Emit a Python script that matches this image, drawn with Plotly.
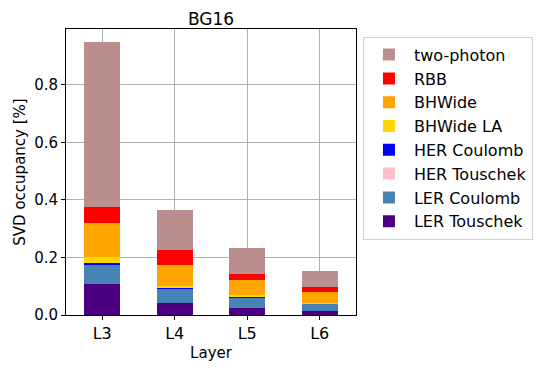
import plotly.graph_objects as go

layers = ["L3", "L4", "L5", "L6"]

# stacked bottom -> top
ler_touschek = [0.108, 0.043, 0.025, 0.014]
ler_coulomb = [0.068, 0.048, 0.037, 0.025]
her_touschek = [0.001, 0.0005, 0.0005, 0.0005]
her_coulomb = [0.004, 0.001, 0.001, 0.001]
bhwide_la = [0.019, 0.007, 0.007, 0.002]
bhwide = [0.119, 0.076, 0.052, 0.036]
rbb = [0.056, 0.050, 0.021, 0.018]
two_photon = [0.575, 0.139, 0.090, 0.058]

series = [
    ("LER Touschek", ler_touschek, "#4b0082"),
    ("LER Coulomb", ler_coulomb, "#4682b4"),
    ("HER Touschek", her_touschek, "#ffc0cb"),
    ("HER Coulomb", her_coulomb, "#0000ff"),
    ("BHWide LA", bhwide_la, "#ffd700"),
    ("BHWide", bhwide, "#ffa500"),
    ("RBB", rbb, "#ff0000"),
    ("two-photon", two_photon, "#bc8f8f"),
]

fig = go.Figure()
for name, vals, color in series:
    fig.add_trace(go.Bar(
        name=name, x=list(range(len(layers))), y=vals,
        marker=dict(color=color, line=dict(width=0)),
        width=0.5, legendgroup=name,
    ))

font = "DejaVu Sans, sans-serif"
# page body has an 8px margin, so the figure is 8px smaller and shifted
fig.update_layout(
    width=537, height=363,
    barmode="stack",
    plot_bgcolor="white", paper_bgcolor="white",
    font=dict(family=font, size=15, color="black"),
    margin=dict(l=52, r=187, t=21, b=54),
    title=dict(text="BG16", xref="paper", x=0.5, xanchor="center",
               y=0.969, yanchor="middle", font=dict(size=17)),
    legend=dict(
        x=1.024, y=0.973, xanchor="left", yanchor="top",
        traceorder="reversed", tracegroupgap=1, itemwidth=40,
        bordercolor="#d0d0d0", borderwidth=1,
        font=dict(size=16),
    ),
    showlegend=True,
)
fig.update_xaxes(
    range=[-0.5, 3.5], tickvals=list(range(len(layers))), ticktext=layers,
    tickfont=dict(size=16), ticks="outside", ticklen=4, tickcolor="black",
    showgrid=True, gridcolor="#b0b0b0", gridwidth=1,
    showline=True, linecolor="black", linewidth=1, mirror=True,
    title=dict(text="Layer", font=dict(size=15), standoff=5),
    zeroline=False,
)
fig.update_yaxes(
    range=[0, 0.994], tickvals=[0, 0.2, 0.4, 0.6, 0.8], tickformat=".1f",
    tickfont=dict(size=15), ticks="outside", ticklen=4, tickcolor="black",
    showgrid=True, gridcolor="#b0b0b0", gridwidth=1,
    showline=True, linecolor="black", linewidth=1, mirror=True,
    title=dict(text="SVD occupancy [%]", font=dict(size=15), standoff=4),
    zeroline=False,
)

fig.write_html("out.html")
